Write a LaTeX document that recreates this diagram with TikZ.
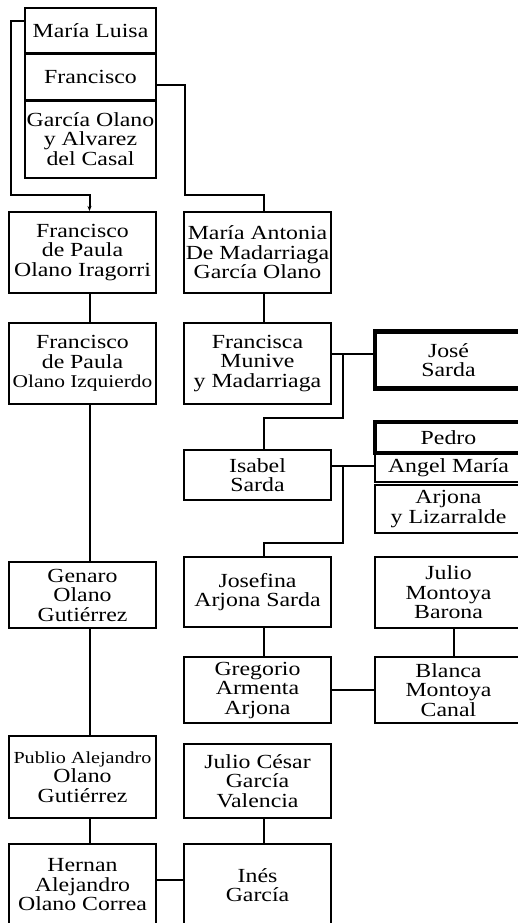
\documentclass[tikz,border=0pt]{standalone}
\usepackage{fontspec}
\setmainfont[FakeStretch=1.19]{Liberation Serif}
\usetikzlibrary{arrows.meta}

\begin{document}
\begin{tikzpicture}[
  x=1pt, y=-1pt, line width=2pt,
  box/.style={draw, rectangle, align=center, inner sep=0pt, minimum width=147pt,
    font=\fontsize{20}{19.5}\selectfont},
  heavybox/.style={box, line width=4.5pt}
]
\useasboundingbox (0,0) rectangle (518,923);
\clip (0,0) rectangle (518,923);

\node[box, minimum width=131pt, minimum height=46pt] (ml) at (90.5,31) {María Luisa};
\node[box, minimum width=131pt, minimum height=48pt] (fr) at (90.5,77) {Francisco};
\node[box, minimum width=131pt, minimum height=78pt] (gc) at (90.5,139) {García Olano\\y Alvarez\\del Casal};

\node[box, minimum height=81pt] (fi) at (82.5,252.5) {Francisco\\de Paula\\Olano Iragorri};
\node[box, minimum height=81pt] (ma) at (257.5,252.5) {María Antonia\\De Madarriaga\\García Olano};
\node[box, minimum height=81pt] (fz) at (82.5,363.5) {Francisco\\de Paula\\{\fontsize{18}{19.5}\selectfont Olano Izquierdo}};
\node[box, minimum height=81pt] (fa) at (257.5,363.5) {Francisca\\Munive\\y Madarriaga};
\node[heavybox, minimum height=57pt] (js) at (448.5,360) {José\\Sarda};

\node[box, minimum height=50pt] (is) at (257.5,475) {Isabel\\Sarda};
\node[heavybox, minimum height=31pt] (pe) at (448.5,437.5) {Pedro};
\node[box, minimum height=29pt] (am) at (448.5,467.5) {Angel María};
\node[box, minimum height=48pt] (ar) at (448.5,509) {Arjona\\y Lizarralde};

\node[box, minimum height=66pt] (ge) at (82.5,595) {Genaro\\Olano\\Gutiérrez};
\node[box, minimum height=70pt] (jo) at (257.5,592) {Josefina\\Arjona Sarda};
\node[box, minimum height=71pt] (jm) at (448.5,592.5) {Julio\\Montoya\\Barona};
\node[box, minimum height=66pt] (gr) at (257.5,690) {Gregorio\\Armenta\\Arjona};
\node[box, minimum height=66pt] (bl) at (448.5,690) {Blanca\\Montoya\\Canal};

\node[box, minimum height=82pt] (pu) at (82.5,777) {{\fontsize{16.9}{18}\selectfont Publio Alejandro}\\Olano\\Gutiérrez};
\node[box, minimum height=74pt] (jc) at (257.5,781) {Julio César\\García\\Valencia};
\node[box, minimum height=82pt] (he) at (82.5,885) {Hernan\\Alejandro\\Olano Correa};
\node[box, minimum height=82pt] (in) at (257.5,885) {Inés\\García};

\coordinate (k1) at (11,195);
\coordinate (k2) at (185,195);
\coordinate (b1) at (343,354);
\coordinate (k3) at (264,418);
\coordinate (b2) at (343,466);
\coordinate (k4) at (264,543);

\draw[-{Stealth[length=5pt,width=4pt]}] ([yshift=10pt]ml.west) -| (k1) -| ([xshift=7pt]fi.north);
\draw ([yshift=-8pt]fr.east) -| (k2) -| ([xshift=6.5pt]ma.north);
\draw ([xshift=7pt]fi.south) -- ([xshift=7pt]fz.north);
\draw ([xshift=6.5pt]ma.south) -- ([xshift=6.5pt]fa.north);
\draw (fa.east |- b1) -- (js.west |- b1);
\draw (b1) |- (k3) -- ([xshift=6.5pt]is.north);
\draw (is.east |- b2) -- (am.west |- b2);
\draw (b2) |- (k4) -- ([xshift=6.5pt]jo.north);
\draw ([xshift=7pt]fz.south) -- ([xshift=7pt]ge.north);
\draw ([xshift=6.5pt]jo.south) -- ([xshift=6.5pt]gr.north);
\draw ([xshift=5.5pt]jm.south) -- ([xshift=5.5pt]bl.north);
\draw (gr.east) -- (bl.west);
\draw ([xshift=7pt]ge.south) -- ([xshift=7pt]pu.north);
\draw ([xshift=7pt]pu.south) -- ([xshift=7pt]he.north);
\draw ([xshift=6.5pt]jc.south) -- ([xshift=6.5pt]in.north);
\draw ([yshift=5pt]he.east) -- ([yshift=5pt]in.west);
\end{tikzpicture}
\end{document}
